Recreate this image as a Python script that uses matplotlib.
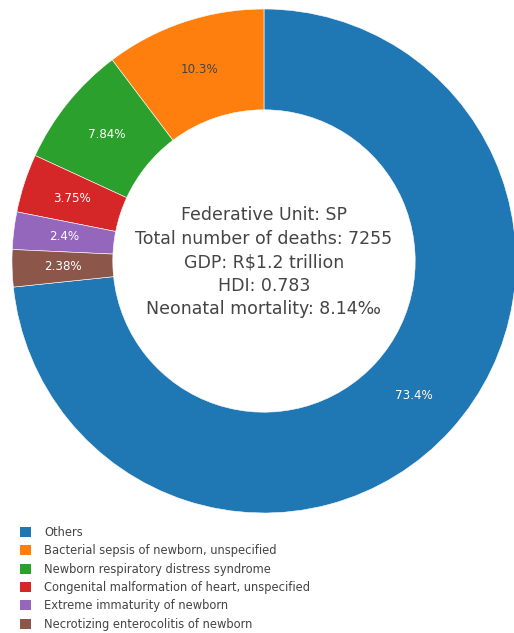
import matplotlib
matplotlib.use("Agg")
import matplotlib.pyplot as plt
from matplotlib.patches import Patch
import numpy as np

causes = [
    "Others",
    "Bacterial sepsis of newborn, unspecified",
    "Newborn respiratory distress syndrome",
    "Congenital malformation of heart, unspecified",
    "Extreme immaturity of newborn",
    "Necrotizing enterocolitis of newborn",
]
shares = [73.4, 10.3, 7.84, 3.75, 2.4, 2.38]
colors = ["#1f77b4", "#ff7f0e", "#2ca02c", "#d62728", "#9467bd", "#8c564b"]
text_colors = ["white", "#444444", "white", "white", "white", "white"]

info = [
    "Federative Unit: SP",
    "Total number of deaths: 7255",
    "GDP: R$1.2 trillion",
    "HDI: 0.783",
    "Neonatal mortality: 8.14\u2030",
]

W, H = 514, 633
fig = plt.figure(figsize=(W / 100, H / 100), dpi=100)

# pie box in pixels: centre (264, 261 from top), radius 252
R = 252
cx, cy = 264, 261
ax = fig.add_axes([(cx - R) / W, (H - cy - R) / H, 2 * R / W, 2 * R / H])

# "Others" ends at 12 o'clock, the rest follow anticlockwise from there
start = 90 - 360 * shares[0] / sum(shares)
wedges, _ = ax.pie(shares, colors=colors, startangle=start, counterclock=True,
                   radius=1.0, wedgeprops=dict(width=0.4, edgecolor="white",
                                               linewidth=0.4))
ax.set_xlim(-1, 1)
ax.set_ylim(-1, 1)
ax.set_aspect("equal")
ax.axis("off")

for w, v, tc in zip(wedges, shares, text_colors):
    ang = np.deg2rad((w.theta1 + w.theta2) / 2)
    ax.text(0.8 * np.cos(ang), 0.8 * np.sin(ang), f"{v:.3g}%",
            ha="center", va="center", color=tc, fontsize=8.6)

ax.text(0, -0.005, "\n".join(info), ha="center", va="center",
        multialignment="center", fontsize=12.5, color="#444444",
        linespacing=1.4)

handles = [Patch(facecolor=c, edgecolor="none") for c in colors]
fig.legend(handles, causes, loc="upper left",
           bbox_to_anchor=(20 / W, (H - 526) / H), frameon=False,
           fontsize=8.3, labelcolor="#444444", handlelength=0.95,
           handleheight=0.95, handletextpad=1.15, labelspacing=0.46,
           borderaxespad=0, borderpad=0)

fig.savefig("out.png", dpi=100)
